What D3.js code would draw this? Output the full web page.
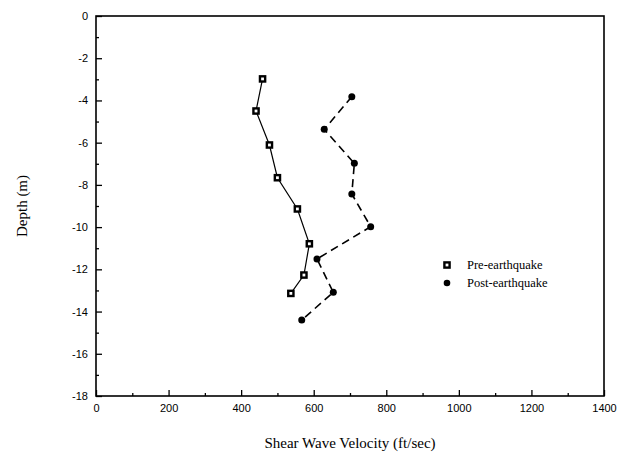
<html>
<head>
<meta charset="utf-8">
<style>
    body { margin:0; background:white; }
    .tick text { font-family: 'Liberation Sans', Arial, sans-serif; font-size:11px; fill:black; }
    .lbl { font-family: 'Liberation Serif', 'Times New Roman', serif; }
</style>
</head>
<body>
<div id="chart"></div>
<script src="https://cdn.jsdelivr.net/npm/d3@7/dist/d3.min.js"></script>
<script>
// values
var preVelocity  = [459, 441, 478, 500, 555, 588, 573, 537];
var preDepth     = [-2.98, -4.5, -6.11, -7.66, -9.14, -10.79, -12.27, -13.14];
var postVelocity = [705, 629, 712, 705, 757, 609, 654, 567];
var postDepth    = [-3.82, -5.37, -6.98, -8.43, -9.98, -11.51, -13.09, -14.4];
var xTicks = [0, 200, 400, 600, 800, 1000, 1200, 1400];
var yTicks = [0, -2, -4, -6, -8, -10, -12, -14, -16, -18];
var seriesNames = ["Pre-earthquake", "Post-earthquake"];

(function(){
var W = 629, H = 459;
var mLeft = 96, mRight = 604, mTop = 16, mBottom = 396;

var svg = d3.select("#chart").append("svg").attr("width", W).attr("height", H);

var x = d3.scaleLinear().domain([0, 1400]).range([mLeft, mRight]);
var y = d3.scaleLinear().domain([0, -18]).range([mTop, mBottom]);

// plain hyphen for negatives, like the original
var fmt = function(d){ return String(d); };

// minor ticks (inside)
var xMinor = d3.range(100, 1400, 200);
var yMinor = d3.range(-1, -18, -2);

svg.append("g").attr("transform", "translate(0," + mBottom + ")")
    .call(d3.axisBottom(x).tickValues(xMinor).tickSize(-3).tickFormat(""))
    .call(function(g){ g.select(".domain").remove(); })
    .selectAll(".tick line").attr("stroke-width", 1.3);
svg.append("g").attr("transform", "translate(" + mLeft + ",0)")
    .call(d3.axisLeft(y).tickValues(yMinor).tickSize(-3).tickFormat(""))
    .call(function(g){ g.select(".domain").remove(); })
    .selectAll(".tick line").attr("stroke-width", 1.3);

var xAxis = svg.append("g").attr("transform", "translate(0," + mBottom + ")")
    .call(d3.axisBottom(x).tickValues(xTicks).tickSize(-6).tickPadding(8).tickFormat(fmt));
xAxis.select(".domain").remove();
xAxis.selectAll(".tick line").attr("stroke-width", 1.3);

var yAxis = svg.append("g").attr("transform", "translate(" + mLeft + ",0)")
    .call(d3.axisLeft(y).tickValues(yTicks).tickSize(-6).tickPadding(8).tickFormat(fmt));
yAxis.select(".domain").remove();
yAxis.selectAll(".tick line").attr("stroke-width", 1.3);

// frame
svg.append("rect")
    .attr("x", mLeft).attr("y", mTop)
    .attr("width", mRight - mLeft).attr("height", mBottom - mTop)
    .attr("fill", "none").attr("stroke", "black").attr("stroke-width", 1.6);

var pre = preVelocity.map(function(v, i){ return [v, preDepth[i]]; });
var post = postVelocity.map(function(v, i){ return [v, postDepth[i]]; });

var line = d3.line().x(function(d){ return x(d[0]); }).y(function(d){ return y(d[1]); });

svg.append("path").datum(pre).attr("d", line)
    .attr("fill", "none").attr("stroke", "black").attr("stroke-width", 1.2);
svg.append("path").datum(post).attr("d", line)
    .attr("fill", "none").attr("stroke", "black").attr("stroke-width", 1.6)
    .attr("stroke-dasharray", "8,5");

function square(g, cx, cy){
    g.append("rect").attr("x", cx - 3.8).attr("y", cy - 3.8).attr("width", 7.6).attr("height", 7.6)
        .attr("fill", "black");
    g.append("rect").attr("x", cx - 1.4).attr("y", cy - 1.4).attr("width", 2.8).attr("height", 2.8)
        .attr("fill", "white");
}

var marks = svg.append("g");
pre.forEach(function(d){ square(marks, x(d[0]), y(d[1])); });
marks.selectAll("circle").data(post).enter().append("circle")
    .attr("cx", function(d){ return x(d[0]); })
    .attr("cy", function(d){ return y(d[1]); })
    .attr("r", 3.5).attr("fill", "black");

// legend
var lg = svg.append("g");
square(lg, 447, 265);
lg.append("circle").attr("cx", 447).attr("cy", 283).attr("r", 3.3).attr("fill", "black");
lg.selectAll("text").data(seriesNames).enter().append("text")
    .attr("class", "lbl")
    .attr("x", 467)
    .attr("y", function(d, i){ return 269 + i * 18; })
    .style("font-size", "12.5px")
    .text(function(d){ return d; });

// axis titles
svg.append("text").attr("class", "lbl")
    .attr("x", (mLeft + mRight) / 2).attr("y", 448)
    .attr("text-anchor", "middle").style("font-size", "15px")
    .text("Shear Wave Velocity (ft/sec)");
svg.append("text").attr("class", "lbl")
    .attr("transform", "translate(27," + ((mTop + mBottom) / 2) + ") rotate(-90)")
    .attr("text-anchor", "middle").style("font-size", "15px")
    .text("Depth (m)");
})();
</script>
</body>
</html>
